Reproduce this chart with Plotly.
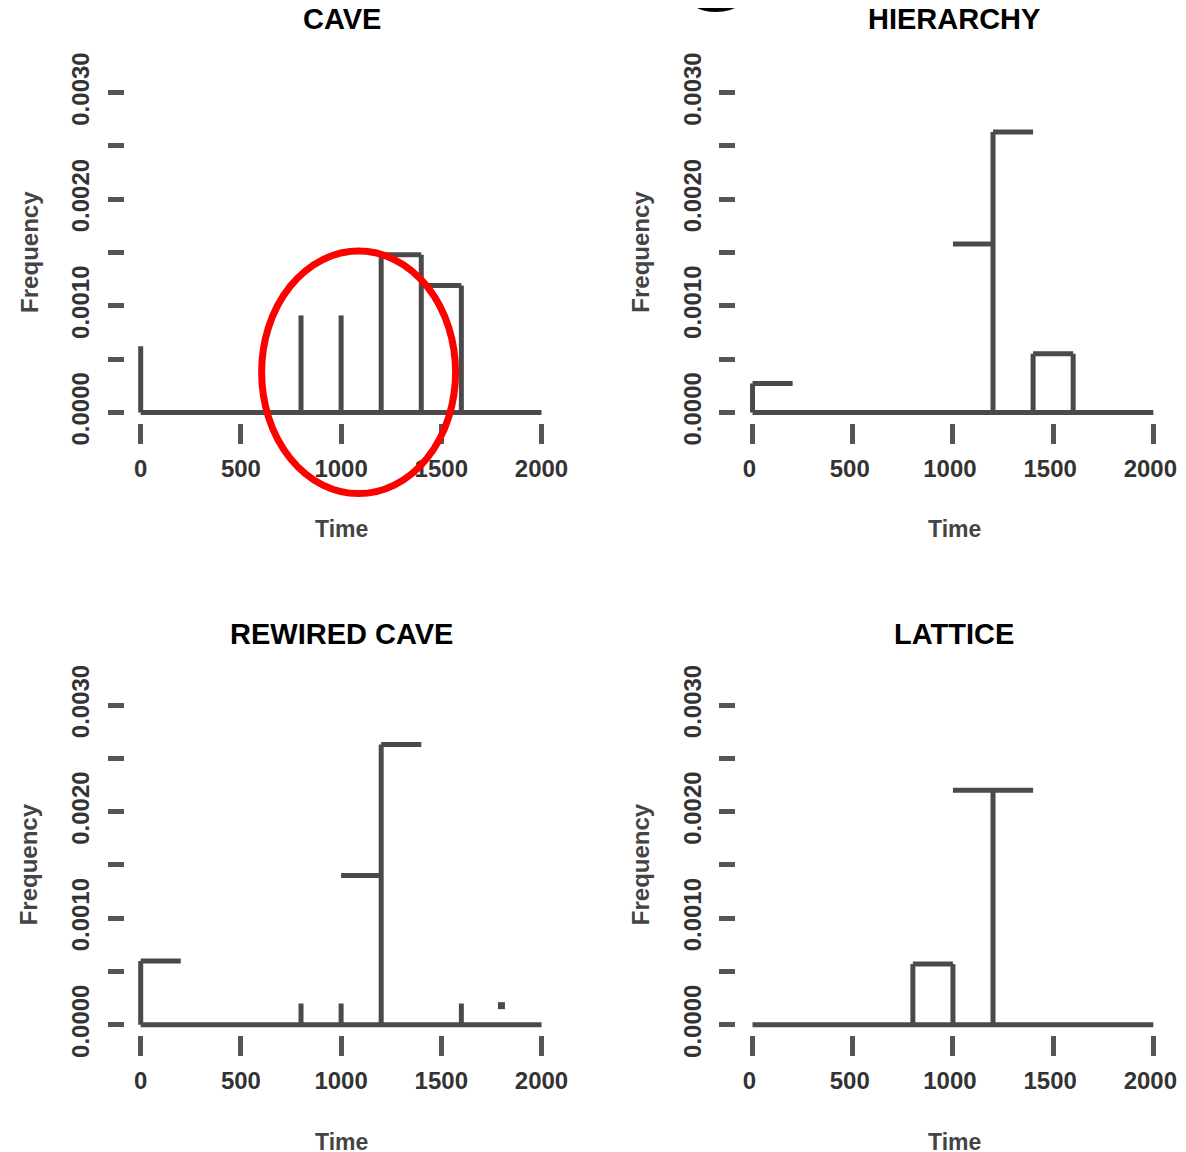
import plotly.graph_objects as go

# ---------------- data (Time, Frequency) ----------------
panel_titles = ["CAVE", "HIERARCHY", "REWIRED CAVE", "LATTICE"]
x_tick_vals = [0, 500, 1000, 1500, 2000]
x_tick_text = ["0", "500", "1000", "1500", "2000"]
y_tick_vals = [0, 0.0005, 0.0010, 0.0015, 0.0020, 0.0025, 0.0030]
y_tick_text = ["0.0000", "", "0.0010", "", "0.0020", "", "0.0030"]

# vertical strokes of each histogram outline: time, frequency
cave_spike_t = [0, 800, 1000, 1200, 1400, 1600]
cave_spike_f = [0.00062, 0.00091, 0.00091, 0.00148, 0.00148, 0.00119]
# horizontal tops: start, end, frequency
cave_top_s = [1200, 1400]
cave_top_e = [1400, 1600]
cave_top_f = [0.00148, 0.00119]
cave_dot_t, cave_dot_f = [], []

hier_spike_t = [0, 1200, 1400, 1600]
hier_spike_f = [0.00027, 0.00263, 0.00055, 0.00055]
hier_top_s = [0, 1000, 1200, 1400]
hier_top_e = [200, 1200, 1400, 1600]
hier_top_f = [0.00027, 0.00158, 0.00263, 0.00055]
hier_dot_t, hier_dot_f = [], []

rew_spike_t = [0, 800, 1000, 1200, 1600]
rew_spike_f = [0.00060, 0.00020, 0.00020, 0.00263, 0.00020]
rew_top_s = [0, 1000, 1200]
rew_top_e = [200, 1200, 1400]
rew_top_f = [0.00060, 0.00140, 0.00263]
rew_dot_t, rew_dot_f = [1800], [0.00018]

lat_spike_t = [800, 1000, 1200]
lat_spike_f = [0.00057, 0.00057, 0.00220]
lat_top_s = [800, 1000]
lat_top_e = [1000, 1400]
lat_top_f = [0.00057, 0.00220]
lat_dot_t, lat_dot_f = [], []

time_min, time_max = 0, 2000

panels = [
    (cave_spike_t, cave_spike_f, cave_top_s, cave_top_e, cave_top_f, cave_dot_t, cave_dot_f),
    (hier_spike_t, hier_spike_f, hier_top_s, hier_top_e, hier_top_f, hier_dot_t, hier_dot_f),
    (rew_spike_t, rew_spike_f, rew_top_s, rew_top_e, rew_top_f, rew_dot_t, rew_dot_f),
    (lat_spike_t, lat_spike_f, lat_top_s, lat_top_e, lat_top_f, lat_dot_t, lat_dot_f),
]

# ---------------- layout geometry (targets in picture pixels) ----------------
W, H = 1186, 1166
SX, OX = 0.991, 7.3
SY, OY = 0.9634, 26.5
def fx(p):
    return ((p - OX) / SX) / W
def fy(p):
    return 1 - ((p - OY) / SY) / H

col_px = [(124, 557), (736, 1169)]
row_px = [(422.6, 71.7), (1033.6, 682.7)]
title_y = [20, 633]
xlab_y = [528, 1140]
ylab_x = [28, 640]
centers_x = [341, 954]
label_shift = [0, -3]

LINE = "#4a4a4a"
TXT = "#333333"
FONT = "Liberation Sans, Arial, sans-serif"

fig = go.Figure()
layout = dict(
    width=W, height=H, margin=dict(l=0, r=0, t=0, b=0),
    paper_bgcolor="white", plot_bgcolor="white", showlegend=False,
)
annotations = []

for i, (st, sf, ts, te, tf, dt, df) in enumerate(panels):
    r, c = divmod(i, 2)
    ax = "" if i == 0 else str(i + 1)
    xs, ys = [time_min, time_max, None], [0, 0, None]
    for t, f in zip(st, sf):
        xs += [t, t, None]
        ys += [0, f, None]
    for s, e, f in zip(ts, te, tf):
        xs += [s, e, None]
        ys += [f, f, None]
    fig.add_trace(go.Scatter(x=xs, y=ys, mode="lines",
                             line=dict(color=LINE, width=5),
                             xaxis="x" + ax, yaxis="y" + ax, hoverinfo="skip"))
    if dt:
        fig.add_trace(go.Scatter(x=dt, y=df, mode="markers",
                                 marker=dict(symbol="square", size=7, color=LINE),
                                 xaxis="x" + ax, yaxis="y" + ax, hoverinfo="skip"))
    x0, x1 = col_px[c]
    yb, yt = row_px[r]
    layout["xaxis" + ax] = dict(
        domain=[fx(x0), fx(x1)], range=[-80, 2080], anchor="y" + ax,
        tickvals=x_tick_vals, ticktext=x_tick_text, ticks="outside",
        ticklen=20, tickwidth=5, tickcolor="#555555",
        showline=False, showgrid=False, zeroline=False,
        tickfont=dict(family=FONT, size=24, color=TXT, weight="bold"),
        ticklabelstandoff=4, ticklabelshift=label_shift[c],
    )
    layout["yaxis" + ax] = dict(
        domain=[fy(yb), fy(yt)], range=[-0.0001, 0.0032], anchor="x" + ax,
        tickvals=y_tick_vals, ticktext=y_tick_text, ticks="outside",
        ticklen=16, tickwidth=5, tickcolor="#555555", tickangle=-90,
        showline=False, showgrid=False, zeroline=False,
        tickfont=dict(family=FONT, size=24, color=TXT, weight="bold"), ticklabelstandoff=9,
    )
    annotations.append(dict(text="<b>" + panel_titles[i] + "</b>", xref="paper", yref="paper",
                            x=fx(centers_x[c]), y=fy(title_y[r]), xanchor="center", yanchor="middle",
                            showarrow=False, font=dict(family=FONT, size=29, color="black")))
    annotations.append(dict(text="<b>Time</b>", xref="paper", yref="paper",
                            x=fx(centers_x[c]), y=fy(xlab_y[r]), xanchor="center", yanchor="middle",
                            showarrow=False, font=dict(family=FONT, size=23, color="#444444")))
    annotations.append(dict(text="<b>Frequency</b>", xref="paper", yref="paper", textangle=-90,
                            x=fx(ylab_x[c]), y=fy((yb + yt) / 2 + 5), xanchor="center", yanchor="middle",
                            showarrow=False, font=dict(family=FONT, size=24, color="#444444")))

# cut-off letter from a heading above the figure
annotations.append(dict(text="<b>g</b>", xref="paper", yref="paper", x=fx(717), y=1,
                        xanchor="center", yanchor="bottom", yshift=12, showarrow=False,
                        font=dict(family=FONT, size=130, color="black")))

layout["annotations"] = annotations
layout["shapes"] = [dict(type="circle", xref="paper", yref="paper",
                         x0=fx(261), x1=fx(455), y0=fy(493), y1=fy(251),
                         line=dict(color="#ff0000", width=7))]
fig.update_layout(**layout)
fig.write_html("out.html")
